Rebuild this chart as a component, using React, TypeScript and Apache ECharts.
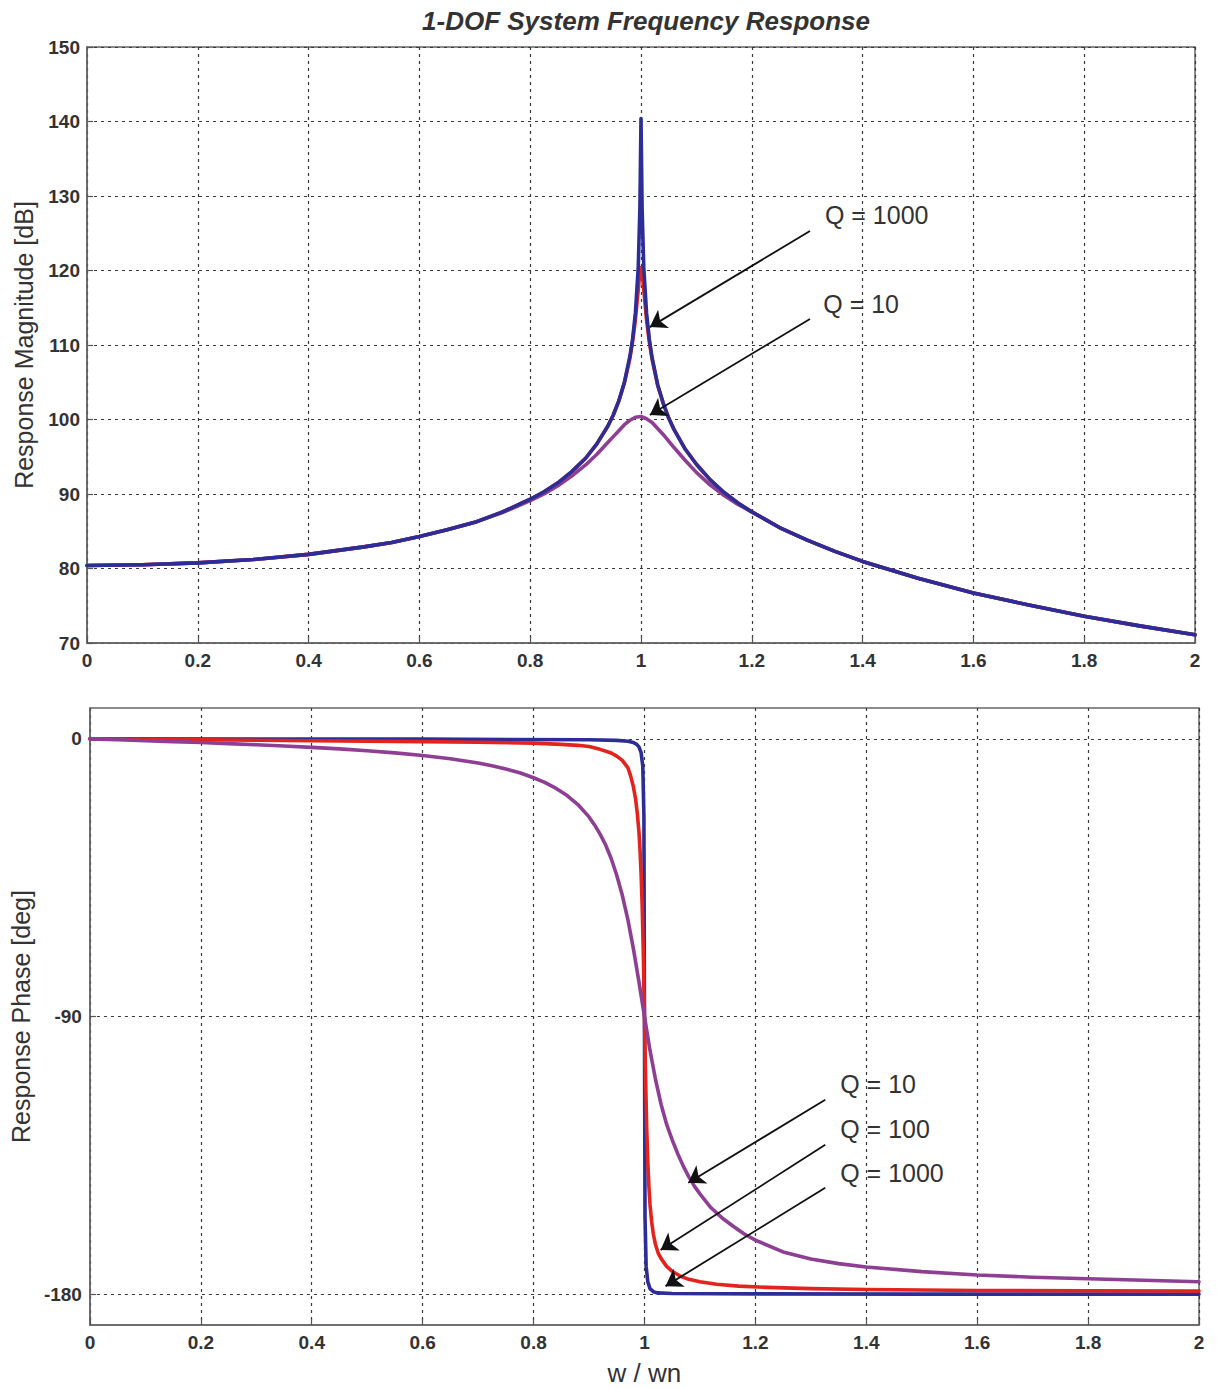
import React, { useEffect, useRef } from "react";
import * as echarts from "echarts";

// ---------- data ----------
// Top panel: response magnitude [dB] vs w/wn
const magXQ1000 = [0, 0.1, 0.2, 0.3, 0.4, 0.5, 0.55, 0.6, 0.65, 0.7, 0.75, 0.8, 0.825, 0.85, 0.875, 0.9, 0.92, 0.94, 0.95, 0.96, 0.97, 0.98, 0.985, 0.99, 0.995, 0.998, 0.999, 1.0, 1.001, 1.002, 1.005, 1.01, 1.015, 1.02, 1.03, 1.04, 1.05, 1.06, 1.08, 1.1, 1.125, 1.15, 1.175, 1.2, 1.25, 1.3, 1.35, 1.4, 1.5, 1.6, 1.7, 1.8, 1.9, 2.0];
const magQ1000 = [80.4, 80.5, 80.75, 81.2, 81.9, 82.9, 83.5, 84.3, 85.2, 86.2, 87.6, 89.3, 90.3, 91.5, 93.0, 94.8, 96.7, 99.1, 100.6, 102.5, 105.0, 108.5, 110.9, 114.4, 120.4, 128.4, 134.4, 140.4, 134.4, 128.4, 120.4, 114.3, 110.8, 108.3, 104.7, 102.2, 100.2, 98.6, 96.0, 94.0, 91.9, 90.2, 88.8, 87.6, 85.5, 83.8, 82.3, 80.95, 78.7, 76.7, 75.1, 73.6, 72.3, 71.1];

const magXQ100 = [0, 0.1, 0.2, 0.3, 0.4, 0.5, 0.55, 0.6, 0.65, 0.7, 0.75, 0.8, 0.825, 0.85, 0.875, 0.9, 0.92, 0.94, 0.95, 0.96, 0.97, 0.98, 0.985, 0.99, 0.995, 0.998, 1.0, 1.002, 1.005, 1.01, 1.015, 1.02, 1.03, 1.04, 1.05, 1.06, 1.08, 1.1, 1.125, 1.15, 1.175, 1.2, 1.25, 1.3, 1.35, 1.4, 1.5, 1.6, 1.7, 1.8, 1.9, 2.0];
const magQ100 = [80.4, 80.5, 80.75, 81.2, 81.9, 82.9, 83.5, 84.3, 85.2, 86.2, 87.6, 89.3, 90.3, 91.5, 93.0, 94.8, 96.7, 99.1, 100.6, 102.5, 104.9, 108.2, 110.5, 113.5, 117.4, 119.8, 120.4, 119.8, 117.4, 113.4, 110.4, 108.1, 104.6, 102.2, 100.2, 98.6, 96.0, 94.0, 91.9, 90.2, 88.8, 87.6, 85.5, 83.8, 82.3, 80.95, 78.7, 76.7, 75.1, 73.6, 72.3, 71.1];

const magXQ10 = [0, 0.1, 0.2, 0.3, 0.4, 0.5, 0.55, 0.6, 0.65, 0.7, 0.75, 0.8, 0.825, 0.85, 0.875, 0.9, 0.92, 0.94, 0.95, 0.96, 0.97, 0.98, 0.99, 1.0, 1.01, 1.02, 1.03, 1.04, 1.05, 1.06, 1.08, 1.1, 1.125, 1.15, 1.175, 1.2, 1.25, 1.3, 1.35, 1.4, 1.5, 1.6, 1.7, 1.8, 1.9, 2.0];
const magQ10 = [80.4, 80.5, 80.75, 81.2, 81.9, 82.9, 83.5, 84.3, 85.2, 86.2, 87.5, 89.1, 90.0, 91.1, 92.4, 93.9, 95.3, 96.9, 97.7, 98.5, 99.3, 99.9, 100.3, 100.4, 100.1, 99.6, 98.8, 98.0, 97.1, 96.2, 94.5, 92.9, 91.2, 89.8, 88.6, 87.6, 85.5, 83.8, 82.3, 80.95, 78.7, 76.7, 75.1, 73.6, 72.3, 71.1];

// Bottom panel: response phase [deg] vs w/wn
const phXQ1000 = [0, 0.3, 0.6, 0.9, 0.95, 0.97, 0.98, 0.986, 0.99, 0.994, 0.997, 0.999, 1.0, 1.001, 1.003, 1.006, 1.01, 1.016, 1.024, 1.05, 1.2, 1.5, 2.0];
const phQ1000 = [0, -0.05, -0.1, -0.3, -0.5, -0.8, -1.2, -1.8, -2.6, -4.5, -9, -25, -90, -155, -171, -176, -178.2, -179.2, -179.6, -179.8, -179.9, -180, -180];

const phXQ100 = [0, 0.2, 0.4, 0.6, 0.7, 0.8, 0.85, 0.88, 0.9, 0.92, 0.94, 0.95, 0.96, 0.97, 0.975, 0.98, 0.984, 0.987, 0.99, 0.992, 0.994, 0.996, 0.998, 1.0, 1.002, 1.004, 1.006, 1.008, 1.01, 1.013, 1.016, 1.02, 1.025, 1.03, 1.04, 1.05, 1.065, 1.08, 1.1, 1.13, 1.17, 1.22, 1.3, 1.4, 1.6, 1.8, 2.0];
const phQ100 = [0, -0.3, -0.6, -0.9, -1.1, -1.4, -1.8, -2.1, -2.5, -3.4, -4.6, -5.6, -7.0, -9.3, -12, -15.5, -19.5, -24, -30, -36, -44, -55, -70, -90, -110, -126, -137, -145, -151, -156.5, -160.5, -164, -166.8, -168.5, -171, -172.6, -174.2, -175.2, -176, -176.8, -177.4, -177.8, -178.2, -178.5, -178.8, -178.9, -179];

const phXQ10 = [0, 0.05, 0.1, 0.15, 0.2, 0.25, 0.3, 0.35, 0.4, 0.45, 0.5, 0.55, 0.6, 0.65, 0.7, 0.725, 0.75, 0.775, 0.8, 0.82, 0.84, 0.86, 0.88, 0.9, 0.91, 0.92, 0.93, 0.94, 0.95, 0.96, 0.97, 0.98, 0.99, 1.0, 1.01, 1.02, 1.03, 1.04, 1.05, 1.06, 1.07, 1.08, 1.09, 1.1, 1.12, 1.14, 1.16, 1.18, 1.2, 1.25, 1.3, 1.35, 1.4, 1.5, 1.6, 1.7, 1.8, 1.9, 2.0];
const phQ10 = [0, -0.3, -0.6, -0.9, -1.2, -1.55, -1.9, -2.3, -2.75, -3.25, -3.85, -4.55, -5.4, -6.45, -7.85, -8.7, -9.75, -11, -12.6, -14.1, -16, -18.3, -21.3, -25.3, -27.9, -30.9, -34.4, -38.8, -44.2, -50.7, -58.5, -68, -78.7, -90, -101, -110.5, -118.5, -125, -130, -134.5, -138.5, -142, -145, -147.5, -152, -155.3, -158, -160.5, -162.5, -166.3, -168.6, -170.1, -171.2, -172.7, -173.8, -174.5, -175, -175.5, -176];

// axis ticks
const phaseTicks = [-180, -90, 0];

// annotations (data coordinates)
const magLabels = [
  { text: "Q = 1000", at: [1.332, 127.45] },
  { text: "Q = 10", at: [1.329, 115.5] },
];
const magArrows = [
  { from: [1.305, 125.3], to: [1.016, 112.4] },
  { from: [1.305, 113.5], to: [1.016, 100.6] },
];
const phLabels = [
  { text: "Q = 10", at: [1.353, -111.8] },
  { text: "Q = 100", at: [1.353, -126.4] },
  { text: "Q = 1000", at: [1.353, -140.7] },
];
const phArrows = [
  { from: [1.326, -117], to: [1.079, -143.9] },
  { from: [1.326, -131.6], to: [1.029, -165.7] },
  { from: [1.326, -145.5], to: [1.038, -177.4] },
];

// ---------- styling ----------
const FONT = "Liberation Sans, Arial, Helvetica, sans-serif";
const TXT = "#333333";
const BLUE = "#2d2d98";
const RED = "#e3231c";
const PURPLE = "#8e3f94";

const pairs = (xs: number[], ys: number[]) => xs.map((x, i) => [x, ys[i]]);

const gridLine = {
  show: true,
  lineStyle: { color: "#3a3a3a", type: [3, 4] as any, width: 1.2 },
};
const axisLine = { show: true, onZero: false, lineStyle: { color: "#666", width: 1.5 } };
const axisTick = { show: true, inside: true, length: 6, lineStyle: { color: "#555", width: 1.2 } };
const tickLabel = { fontSize: 19, fontWeight: "bold" as const, color: TXT, fontFamily: FONT };

const lineSeries = (name: string, xs: number[], ys: number[], color: string, idx: number) => ({
  name,
  type: "line",
  xAxisIndex: idx,
  yAxisIndex: idx,
  data: pairs(xs, ys),
  showSymbol: false,
  symbol: "none",
  clip: true,
  smooth: false,
  lineStyle: { color, width: 3.6, join: "round", cap: "round" },
  itemStyle: { color },
  silent: true,
  z: 3,
});

const annotate = (labels: any[], arrows: any[]) => ({
  markLine: {
    silent: true,
    symbol: ["none", "arrow"],
    symbolSize: 16,
    label: { show: false },
    lineStyle: { color: "#111", width: 1.8, type: "solid" },
    data: arrows.map((a) => [{ coord: a.from }, { coord: a.to }]),
  },
  markPoint: {
    silent: true,
    symbol: "circle",
    symbolSize: 0,
    itemStyle: { color: "transparent" },
    label: {
      show: true,
      position: "right",
      distance: 0,
      formatter: "{b}",
      fontSize: 25,
      color: TXT,
      fontFamily: FONT,
    },
    data: labels.map((l) => ({ name: l.text, coord: l.at })),
  },
});

export default function App() {
  const ref = useRef<HTMLDivElement>(null);

  useEffect(() => {
    if (!ref.current) return;
    const chart = echarts.init(ref.current, null, { renderer: "svg" });

    const q10Top: any = { ...lineSeries("Q = 10", magXQ10, magQ10, PURPLE, 0), ...annotate(magLabels, magArrows) };
    const q10Bot: any = { ...lineSeries("Q = 10", phXQ10, phQ10, PURPLE, 1), ...annotate(phLabels, phArrows) };

    chart.setOption({
      animation: false,
      backgroundColor: "#ffffff",
      title: {
        text: "1-DOF System Frequency Response",
        left: 641,
        top: 3,
        textAlign: "center",
        textStyle: { fontSize: 26, fontStyle: "italic", fontWeight: "bold", color: TXT, fontFamily: FONT },
      },
      grid: [
        { left: 87, top: 47, width: 1108, height: 596, show: true, borderColor: "#666", borderWidth: 1.5, backgroundColor: "#fff" },
        { left: 89, top: 708, width: 1110, height: 617, show: true, borderColor: "#666", borderWidth: 1.5, backgroundColor: "#fff" },
      ],
      xAxis: [
        {
          gridIndex: 0, type: "value", min: 0, max: 2, interval: 0.2,
          axisLine, axisTick, splitLine: gridLine,
          axisLabel: { ...tickLabel, margin: 8 },
        },
        {
          gridIndex: 1, type: "value", min: 0, max: 2, interval: 0.2,
          axisLine, axisTick, splitLine: gridLine,
          axisLabel: { ...tickLabel, margin: 8 },
          name: "w / wn", nameLocation: "middle", nameGap: 35,
          nameTextStyle: { fontSize: 26, color: TXT, fontFamily: FONT },
        },
      ],
      yAxis: [
        {
          gridIndex: 0, type: "value", min: 70, max: 150, interval: 10,
          axisLine, axisTick, splitLine: gridLine,
          axisLabel: { ...tickLabel, margin: 7 },
          name: "Response Magnitude [dB]", nameLocation: "middle", nameGap: 51,
          nameTextStyle: { fontSize: 25, color: TXT, fontFamily: FONT },
        },
        {
          gridIndex: 1, type: "value", min: -190, max: 10,
          axisLine,
          axisTick: { ...axisTick, customValues: phaseTicks },
          splitLine: gridLine,
          axisLabel: { ...tickLabel, margin: 8, customValues: phaseTicks },
          name: "Response Phase [deg]", nameLocation: "middle", nameGap: 45,
          nameTextStyle: { fontSize: 25, color: TXT, fontFamily: FONT },
        },
      ],
      series: [
        lineSeries("Q = 100", magXQ100, magQ100, RED, 0),
        q10Top,
        lineSeries("Q = 1000", magXQ1000, magQ1000, BLUE, 0),
        lineSeries("Q = 1000", phXQ1000, phQ1000, BLUE, 1),
        lineSeries("Q = 100", phXQ100, phQ100, RED, 1),
        q10Bot,
      ],
    });

    return () => chart.dispose();
  }, []);

  return (
    <div
      ref={ref}
      style={{ position: "absolute", left: 0, top: 0, width: 1217, height: 1388, background: "#fff" }}
    />
  );
}
